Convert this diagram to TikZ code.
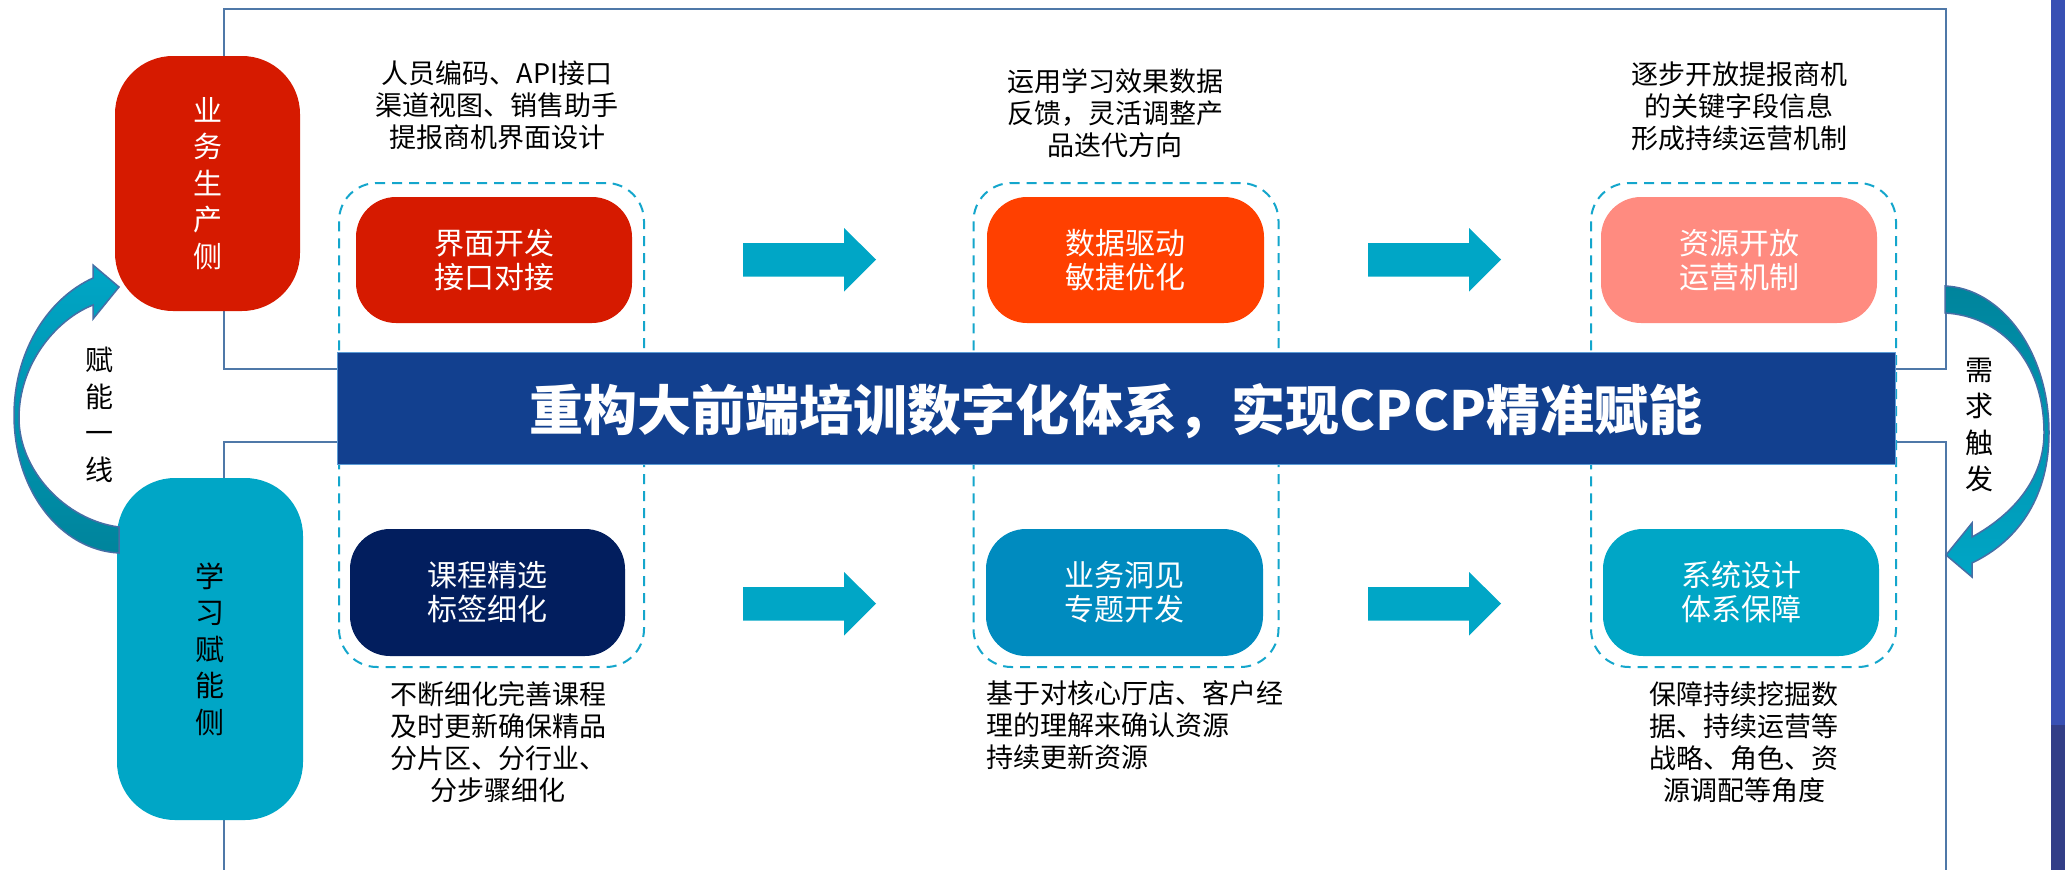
\documentclass[tikz,border=0pt]{standalone}
\usepackage{fontspec}
\setmainfont{Noto Sans CJK SC}
\definecolor{frameC}{RGB}{79,120,168}
\definecolor{dashC}{RGB}{20,166,204}
\definecolor{redC}{RGB}{214,26,0}
\definecolor{orangeC}{RGB}{255,64,0}
\definecolor{salmonC}{RGB}{255,139,128}
\definecolor{navyC}{RGB}{2,30,94}
\definecolor{midblueC}{RGB}{0,139,191}
\definecolor{tealC}{RGB}{0,166,198}
\definecolor{darktealC}{RGB}{0,132,156}
\definecolor{bannerC}{RGB}{18,64,143}
\definecolor{bannerEdge}{RGB}{91,155,213}
\definecolor{curveEdge}{RGB}{70,110,165}
\definecolor{stripA}{RGB}{56,80,180}
\definecolor{stripB}{RGB}{50,62,135}
\newcommand\mkblockarrow[2]{\fill[tealC] (#1,#2) ++(0,-16.5) -- ++(101,0) -- ++(0,-15) -- ++(32,31.5) -- ++(-32,32) -- ++(0,-15) -- ++(-101,0) -- cycle;}
\begin{document}
\begin{tikzpicture}[x=1pt,y=-1pt,
  frameline/.style={draw=frameC, line width=2.2pt},
  dashbox/.style={draw=dashC, dash pattern=on 10pt off 7pt, line width=2pt, rounded corners=38pt, minimum width=305pt, minimum height=484pt, inner sep=0pt},
  card/.style={rounded corners=40pt, minimum width=276pt, minimum height=126pt, inner sep=0pt, text=white, font=\fontsize{30}{34}\selectfont, align=center},
  desc/.style={font=\fontsize{27}{32}\selectfont, align=center, inner sep=0pt, text=black},
  sidebox/.style={rounded corners=58pt, inner sep=0pt, font=\fontsize{29}{36.5}\selectfont, align=center},
  vlabel/.style={font=\fontsize{28}{36.5}\selectfont, align=center, inner sep=0pt},
  curvearrow/.style={draw=curveEdge, line width=1.5pt}
]
\useasboundingbox (0,0) rectangle (2065,870);
\fill[white] (0,0) rectangle (2065,870);
% right-hand strip
\fill[stripA] (2051,0) rectangle (2065,725);
\fill[stripB] (2051,725) rectangle (2065,870);
% frames
\draw[frameline] (224,9) rectangle (1946,369);
\draw[frameline] (224,870) -- (224,442) -- (1946,442) -- (1946,870);
% dashed columns
\node[dashbox] (d1) at (491.5,425) {};
\node[dashbox] (d2) at (1126,425) {};
\node[dashbox] (d3) at (1743.5,425) {};
% banner
\node[fill=bannerC, draw=bannerEdge, line width=1pt, minimum width=1558pt, minimum height=112pt, inner sep=0pt] (banner) at (1116,408) {};
\node[font=\fontsize{54}{60}\selectfont\bfseries, text=white, inner sep=0pt] (title) at (1116,411) {重构大前端培训数字化体系，实现CPCP精准赋能};
% cards
\node[card, fill=redC] (b11) at (494,260) {界面开发\\接口对接};
\node[card, fill=orangeC, minimum width=277pt] (b12) at (1125.5,260) {数据驱动\\敏捷优化};
\node[card, fill=salmonC] (b13) at (1739,260) {资源开放\\运营机制};
\node[card, fill=navyC, minimum width=275pt, minimum height=127pt] (b21) at (487.5,592.5) {课程精选\\标签细化};
\node[card, fill=midblueC, minimum width=277pt, minimum height=127pt] (b22) at (1124.5,592.5) {业务洞见\\专题开发};
\node[card, fill=tealC, minimum width=276pt, minimum height=127pt] (b23) at (1741,592.5) {系统设计\\体系保障};
% straight block arrows
\mkblockarrow{743}{259.5}
\mkblockarrow{1368}{259.5}
\mkblockarrow{743}{603.5}
\mkblockarrow{1368}{603.5}
% side boxes
\node[sidebox, fill=redC, text=white, minimum width=185pt, minimum height=255pt] (s1) at (207.5,183.5) {业\\务\\生\\产\\侧};
\node[sidebox, fill=tealC, text=black, minimum width=186pt, minimum height=342pt] (s2) at (210,649) {学\\习\\赋\\能\\侧};
% curved arrows
\path[curvearrow, top color=tealC, bottom color=darktealC]
  (93,305) -- (93,319) -- (119,287) -- (93,265) -- (93,278)
  .. controls (45,300) and (14,355) .. (14,415)
  .. controls (14,490) and (60,550) .. (119,553)
  -- (119,527)
  .. controls (65,520) and (19,470) .. (19,418)
  .. controls (19,365) and (55,320) .. (93,305) -- cycle;
\path[curvearrow, top color=darktealC, bottom color=tealC]
  (1945,286) .. controls (2000,288) and (2049,350) .. (2049,433)
  .. controls (2049,495) and (2020,540) .. (1972,563)
  -- (1972,577) -- (1946,555) -- (1972,523) -- (1972,537)
  .. controls (2012,515) and (2044,480) .. (2044,433)
  .. controls (2044,360) and (2000,316) .. (1945,313) -- cycle;
% labels
\node[vlabel] (l1) at (99,415) {赋\\能\\一\\线};
\node[vlabel] (l2) at (1979,425) {需\\求\\触\\发};
% descriptions
\node[desc] (t1) at (497,105) {人员编码、API接口\\渠道视图、销售助手\\提报商机界面设计};
\node[desc] (t2) at (1115,113) {运用学习效果数据\\反馈，灵活调整产\\品迭代方向};
\node[desc] (t3) at (1739,106) {逐步开放提报商机\\的关键字段信息\\形成持续运营机制};
\node[desc] (u1) at (498,742) {不断细化完善课程\\及时更新确保精品\\分片区、分行业、\\分步骤细化};
\node[desc, align=left, anchor=west] (u2) at (986,725) {基于对核心厅店、客户经\\理的理解来确认资源\\持续更新资源};
\node[desc] (u3) at (1744,742) {保障持续挖掘数\\据、持续运营等\\战略、角色、资\\源调配等角度};
\end{tikzpicture}
\end{document}
